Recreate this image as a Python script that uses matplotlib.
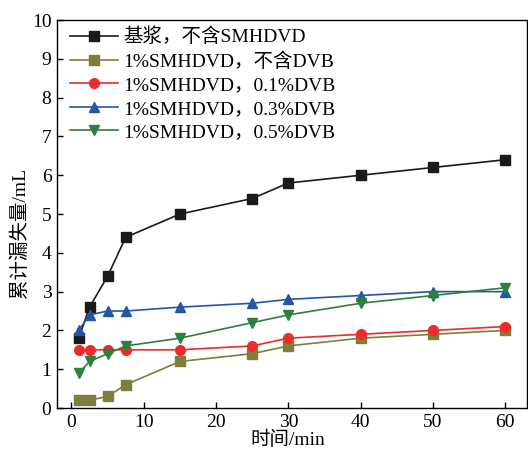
import matplotlib
matplotlib.use('Agg')
import matplotlib.pyplot as plt

plt.rcParams['font.family'] = ['Liberation Serif', 'Noto Sans CJK SC']

time_min = [1, 2.5, 5, 7.5, 15, 25, 30, 40, 50, 60]
base = [1.8, 2.6, 3.4, 4.4, 5.0, 5.4, 5.8, 6.0, 6.2, 6.4]
no_dvb = [0.2, 0.2, 0.3, 0.6, 1.2, 1.4, 1.6, 1.8, 1.9, 2.0]
dvb_01 = [1.5, 1.5, 1.5, 1.5, 1.5, 1.6, 1.8, 1.9, 2.0, 2.1]
dvb_03 = [2.0, 2.4, 2.5, 2.5, 2.6, 2.7, 2.8, 2.9, 3.0, 3.0]
dvb_05 = [0.9, 1.2, 1.4, 1.6, 1.8, 2.2, 2.4, 2.7, 2.9, 3.1]

labels = ['基浆，不含SMHDVD', '1%SMHDVD，不含DVB', '1%SMHDVD，0.1%DVB',
          '1%SMHDVD，0.3%DVB', '1%SMHDVD，0.5%DVB']
colors = ['#1a1a1a', '#7f7d3c', '#ee2b2b', '#2456a8', '#2e7f3e']
markers = ['s', 's', 'o', '^', 'v']

fig = plt.figure(figsize=(5.28, 4.49), dpi=100)
ax = fig.add_axes([0.108, 0.0913, 0.89, 0.864])

series = [base, no_dvb, dvb_01, dvb_03, dvb_05]
for ys, lab, c, m in zip(series, labels, colors, markers):
    ax.plot(time_min, ys, color=c, marker=m, markersize=7, linewidth=1.2, label=lab)

ax.set_xlim(-2, 63)
ax.set_ylim(0, 10)
ax.set_xticks([0, 10, 20, 30, 40, 50, 60])
ax.set_yticks(range(0, 11))
ax.tick_params(labelsize=14, direction='in', length=4, width=1, pad=4)
for s in ax.spines.values():
    s.set_linewidth(1)

ax.set_xlabel('时间/min', fontsize=14, va='center')
ax.xaxis.set_label_coords(0.49, -0.083)
ax.set_ylabel('累计漏失量/mL', fontsize=14, va='center')
ax.yaxis.set_label_coords(-0.079, 0.45)

ax.legend(loc='upper left', frameon=False, fontsize=14, handlelength=2.5,
          labelspacing=0.3, borderaxespad=0.0, handletextpad=0.25,
          bbox_to_anchor=(0.01, 1.0))

fig.savefig('out.png', dpi=100)
